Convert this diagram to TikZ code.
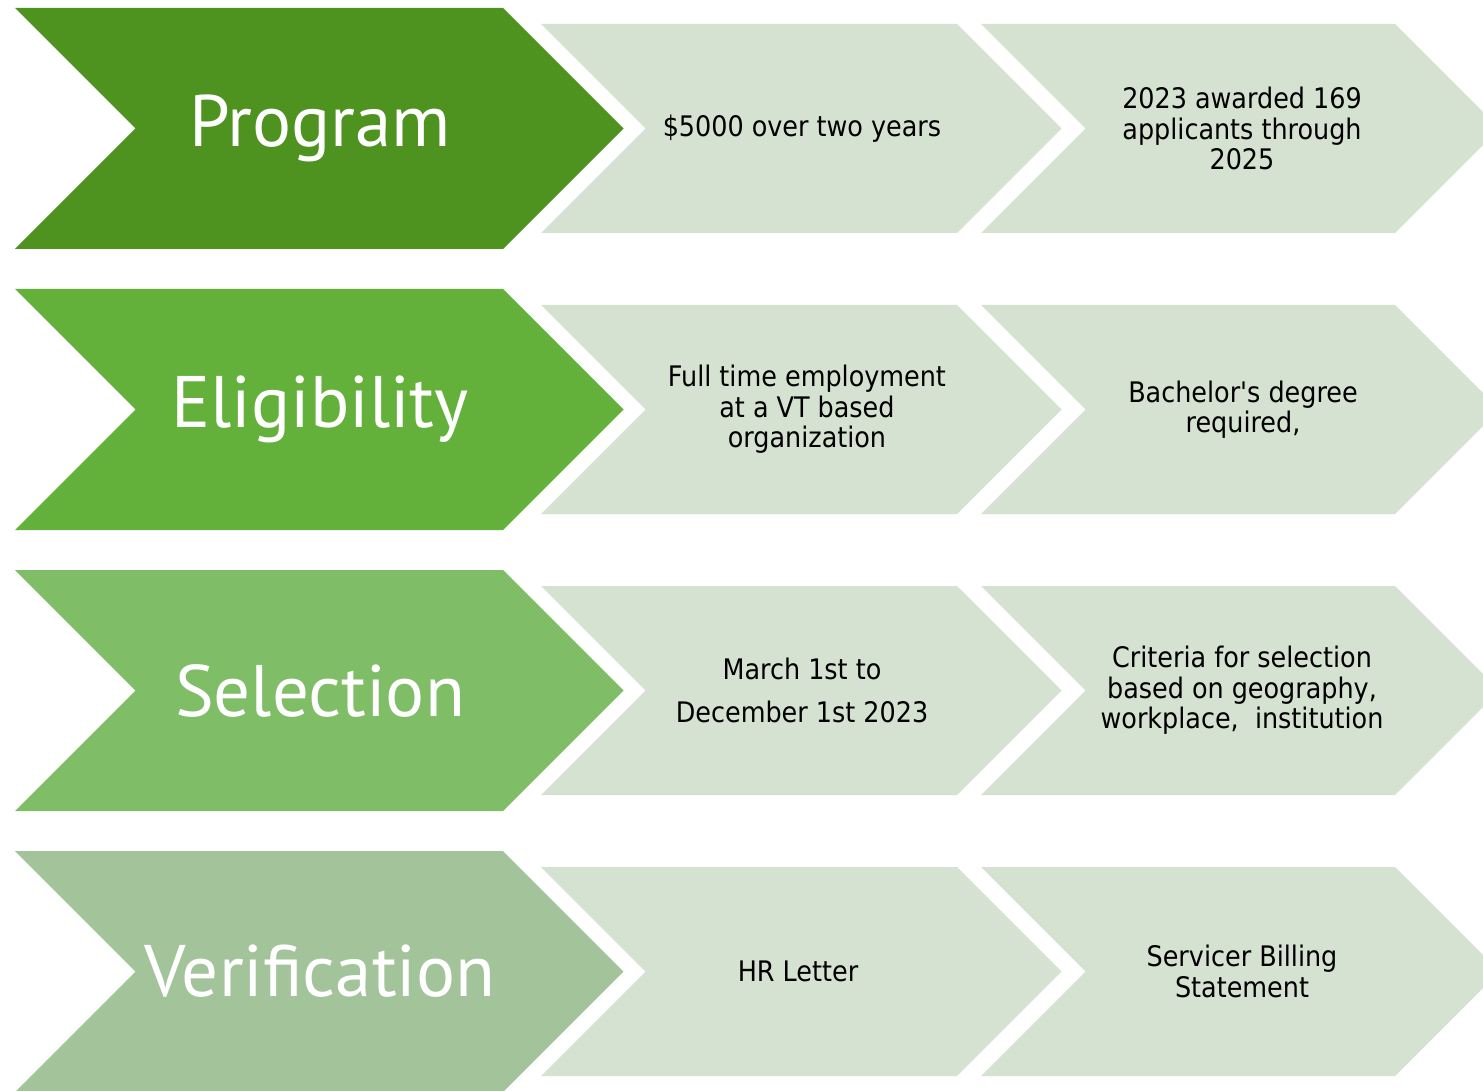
\documentclass[tikz,border=0pt]{standalone}
\usepackage{fontspec}
\newfontfamily\bigfont{PT Sans}
\newfontfamily\smallfont{DejaVu Sans Condensed}
\definecolor{cA}{HTML}{4E9220}
\definecolor{cB}{HTML}{63B13A}
\definecolor{cC}{HTML}{7FBD67}
\definecolor{cD}{HTML}{A3C49A}
\definecolor{cL}{HTML}{D5E2D1}
\newcommand{\chevshape}[5]{% left x, center y, corner x, half height, colour
  \fill[#5] (#1,#2-#4) -- (#3,#2-#4) -- (#3+#4,#2) -- (#3,#2+#4) -- (#1,#2+#4) -- (#1+#4,#2) -- cycle;}
\tikzset{
  bigtxt/.style={text=white,font=\bigfont\fontsize{73}{80}\selectfont,inner sep=0pt},
  smalltxt/.style={text=black,font=\smallfont\fontsize{28.3}{30.5}\selectfont,align=center,inner sep=0pt}
}
\begin{document}
\begin{tikzpicture}[x=1pt,y=-1pt]
\useasboundingbox (0,0) rectangle (1483,1091);
\begin{scope}
\clip (0,0) rectangle (1483,1091);
\foreach \cy/\col in {128.5/cA,409.5/cB,690.5/cC,971.5/cD}{
  \chevshape{15}{\cy}{503}{120.5}{\col}
  \chevshape{541}{\cy}{957}{104.5}{cL}
  \chevshape{981}{\cy}{1395}{104.5}{cL}
}
\end{scope}
\node[bigtxt] (p) at (320,128.5) {Program};
\node[bigtxt] (e) at (320,409.5) {Eligibility};
\node[bigtxt] (s) at (320,690.5) {Selection};
\node[bigtxt] (v) at (320,971.5) {Verification};
\node[smalltxt] (p1) at (802,128.5) {\$5000 over two years};
\node[smalltxt] (p2) at (1242,128.5) {2023 awarded 169\\applicants through\\2025};
\node[smalltxt] (e1) at (807,409.5) {Full time employment\\at a VT based\\organization};
\node[smalltxt] (e2) at (1243,409.5) {Bachelor's degree\\required,};
\node[smalltxt] (s1) at (802,690.5) {March 1st to\\[12pt]December 1st 2023};
\node[smalltxt] (s2) at (1242,690.5) {Criteria for selection\\based on geography,\\workplace,\ \ institution};
\node[smalltxt] (v1) at (798,971.5) {HR Letter};
\node[smalltxt] (v2) at (1242,971.5) {Servicer Billing\\Statement};
\end{tikzpicture}
\end{document}
